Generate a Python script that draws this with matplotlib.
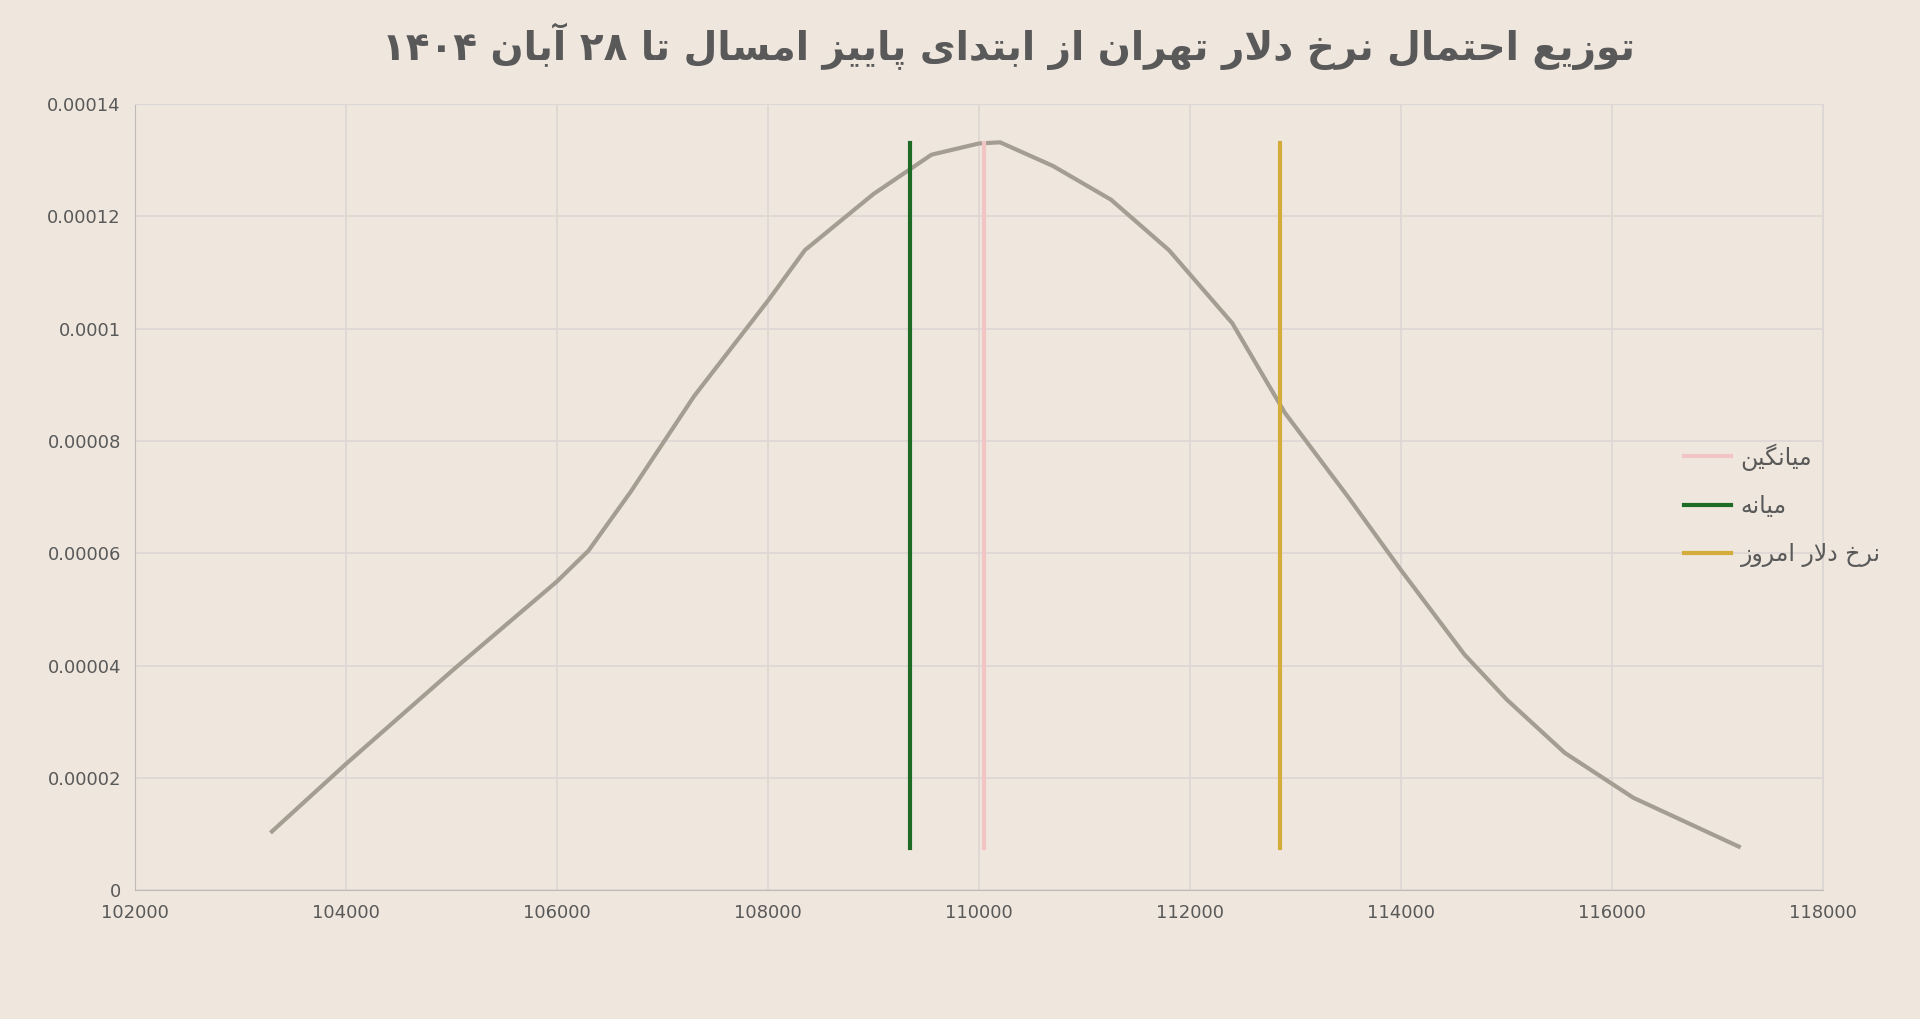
import matplotlib
matplotlib.use("Agg")
import matplotlib.pyplot as plt

# Persian text shaping (matplotlib has no RTL / joining support)
FORMS = {
    "ا": ("\uFE8D", "\uFE8E", None, None),
    "آ": ("\uFE81", "\uFE82", None, None),
    "ب": ("\uFE8F", "\uFE90", "\uFE91", "\uFE92"),
    "پ": ("\uFB56", "\uFB57", "\uFB58", "\uFB59"),
    "ت": ("\uFE95", "\uFE96", "\uFE97", "\uFE98"),
    "ح": ("\uFEA1", "\uFEA2", "\uFEA3", "\uFEA4"),
    "خ": ("\uFEA5", "\uFEA6", "\uFEA7", "\uFEA8"),
    "د": ("\uFEA9", "\uFEAA", None, None),
    "ر": ("\uFEAD", "\uFEAE", None, None),
    "ز": ("\uFEAF", "\uFEB0", None, None),
    "س": ("\uFEB1", "\uFEB2", "\uFEB3", "\uFEB4"),
    "ع": ("\uFEC9", "\uFECA", "\uFECB", "\uFECC"),
    "گ": ("\uFB92", "\uFB93", "\uFB94", "\uFB95"),
    "ل": ("\uFEDD", "\uFEDE", "\uFEDF", "\uFEE0"),
    "م": ("\uFEE1", "\uFEE2", "\uFEE3", "\uFEE4"),
    "ن": ("\uFEE5", "\uFEE6", "\uFEE7", "\uFEE8"),
    "ه": ("\uFEE9", "\uFEEA", "\uFEEB", "\uFEEC"),
    "و": ("\uFEED", "\uFEEE", None, None),
    "ی": ("\uFBFC", "\uFBFD", "\uFBFE", "\uFBFF"),
}


def shape(text):
    out = []
    chars = list(text)
    i = 0
    n = len(chars)
    while i < n:
        c = chars[i]
        if c not in FORMS:
            out.append(c)
            i += 1
            continue
        prev = chars[i - 1] if i > 0 else None
        joins_prev = prev in FORMS and FORMS[prev][2] is not None
        # lam-alef ligature
        if c == "ل" and i + 1 < n and chars[i + 1] == "ا":
            out.append("\uFEFC" if joins_prev else "\uFEFB")
            i += 2
            continue
        nxt = chars[i + 1] if i + 1 < n else None
        joins_next = FORMS[c][2] is not None and nxt in FORMS
        iso, fin, ini, med = FORMS[c]
        if joins_prev and joins_next:
            out.append(med)
        elif joins_prev:
            out.append(fin)
        elif joins_next:
            out.append(ini)
        else:
            out.append(iso)
        i += 1
    # reverse for visual order, keeping digit runs left-to-right
    tokens = []
    for ch in out:
        if ch.isdigit() and tokens and tokens[-1][0].isdigit():
            tokens[-1] += ch
        else:
            tokens.append(ch)
    return "".join(reversed(tokens))


title = "توزیع احتمال نرخ دلار تهران از ابتدای پاییز امسال تا ۲۸ آبان ۱۴۰۴"
legend_labels = ["میانگین", "میانه", "نرخ دلار امروز"]

price = [103300, 104000, 105000, 106000, 106300, 106700, 107300, 108000, 108350,
         109000, 109550, 110000, 110200, 110700, 111250, 111800, 112400, 112900,
         113500, 114000, 114600, 115000, 115550, 116200, 117200]
density = [0.0000105, 0.0000225, 0.000039, 0.000055, 0.0000605, 0.000071, 0.000088,
           0.000105, 0.000114, 0.000124, 0.000131, 0.000133, 0.0001332, 0.000129,
           0.000123, 0.000114, 0.000101, 0.000085, 0.000070, 0.000057, 0.000042,
           0.000034, 0.0000245, 0.0000165, 0.0000078]

vline_x = [110050, 109350, 112850]
vline_colors = ["#F2C4C4", "#1E6B26", "#D4AC3A"]
vline_ymin, vline_ymax = 0.0000075, 0.000133

bg = "#EFE7DE"
fig = plt.figure(figsize=(19.2, 10.19), dpi=100, facecolor=bg)
ax = fig.add_axes([0.0702, 0.1262, 0.8794, 0.7716], facecolor=bg)

ax.plot(price, density, color="#A39D92", lw=3)
for x, c, lab in zip(vline_x, vline_colors, legend_labels):
    ax.plot([x, x], [vline_ymin, vline_ymax], color=c, lw=3, label=shape(lab))

ax.set_xlim(102000, 118000)
ax.set_ylim(0, 0.00014)
ax.set_xticks(range(102000, 118001, 2000))
ax.set_yticks([0, 0.00002, 0.00004, 0.00006, 0.00008, 0.0001, 0.00012, 0.00014])
ax.set_yticklabels(["0", "0.00002", "0.00004", "0.00006", "0.00008", "0.0001", "0.00012", "0.00014"])
ax.tick_params(colors="#595959", labelsize=13, length=0, pad=10)
ax.grid(color="#DCD6D4", lw=1.2)
ax.set_axisbelow(True)
for s in ["top", "right"]:
    ax.spines[s].set_color("#DCD6D4")
for s in ["left", "bottom"]:
    ax.spines[s].set_color("#BFBAB5")

leg = ax.legend(loc="center left", bbox_to_anchor=(0.905, 0.49), frameon=False,
                handlelength=2.0, labelspacing=1.0, handletextpad=0.4,
                prop={"family": ["DejaVu Sans"], "size": 17})
for t in leg.get_texts():
    t.set_color("#595959")

fig.text(0.525, 0.955, shape(title), ha="center", va="center", fontsize=28,
         fontweight="bold", color="#595959", family=["DejaVu Sans"])

fig.savefig("out.png", dpi=100, facecolor=bg)
